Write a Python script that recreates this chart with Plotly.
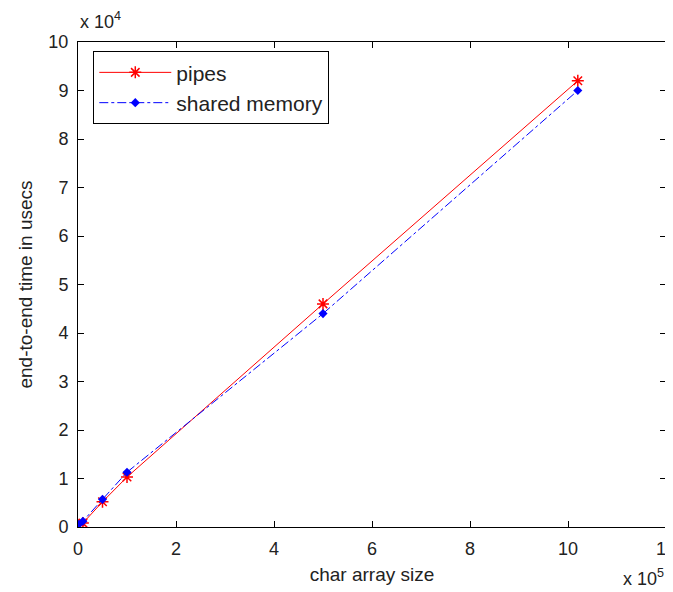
import plotly.graph_objects as go

# data
array_size = [1000, 10000, 50000, 100000, 500000, 1020000]
pipes_us = [300, 800, 5200, 10300, 46000, 92000]
shm_us = [500, 1200, 5700, 11300, 44000, 90000]

x_tickvals = [0, 200000, 400000, 600000, 800000, 1000000, 1200000]
x_ticktext = ["0", "2", "4", "6", "8", "10", "12"]
y_tickvals = [i * 10000 for i in range(11)]
y_ticktext = [str(i) for i in range(11)]

FONT = "Liberation Sans, Arial, sans-serif"
FS = 18
TFS = 19

fig = go.Figure()
fig.add_trace(go.Scatter(
    x=array_size, y=pipes_us, name="pipes", mode="lines+markers",
    line=dict(color="red", width=1),
    marker=dict(symbol="asterisk-open", size=10, color="red", line=dict(color="red", width=1.5)),
))
fig.add_trace(go.Scatter(
    x=array_size, y=shm_us, name="shared memory", mode="lines+markers",
    line=dict(color="blue", width=1, dash="dashdot"),
    marker=dict(symbol="diamond", size=7, color="blue"),
))

axis_common = dict(
    showline=True, linecolor="black", linewidth=1, mirror="ticks",
    ticks="inside", ticklen=6, tickcolor="black", tickwidth=1,
    showgrid=False, zeroline=False, automargin=False,
    ticklabeloverflow="allow",
    tickfont=dict(family=FONT, size=FS, color="#222"),
)

fig.update_layout(
    width=673, height=592,
    paper_bgcolor="white", plot_bgcolor="white",
    margin=dict(l=70, r=15, t=34, b=73),
    font=dict(family=FONT, size=FS, color="#222"),
    xaxis=dict(range=[0, 1200000], tickvals=x_tickvals, ticktext=x_ticktext,
               ticklabelstandoff=5,
               title=dict(text="char array size", standoff=10, font=dict(size=TFS)),
               **axis_common),
    yaxis=dict(range=[0, 100000], tickvals=y_tickvals, ticktext=y_ticktext,
               ticklabelstandoff=5,
               title=dict(text="end-to-end time in usecs", standoff=10, font=dict(size=TFS)),
               **axis_common),
    legend=dict(x=0.026, y=0.981, xanchor="left", yanchor="top",
                bordercolor="black", borderwidth=1, bgcolor="white",
                font=dict(family=FONT, size=21, color="#222"),
                itemwidth=72, tracegroupgap=0),
    showlegend=True,
)

fig.add_annotation(x=0, y=1, xref="paper", yref="paper", xanchor="left", yanchor="bottom",
                   yshift=8, text="x 10<sup>4</sup>", showarrow=False,
                   font=dict(family=FONT, size=FS, color="#222"))
fig.add_annotation(x=1, y=0, xref="paper", yref="paper", xanchor="right", yanchor="middle",
                   xshift=0, yshift=-50, text="x 10<sup>5</sup>", showarrow=False,
                   font=dict(family=FONT, size=FS, color="#222"))

fig.write_html("out.html")
